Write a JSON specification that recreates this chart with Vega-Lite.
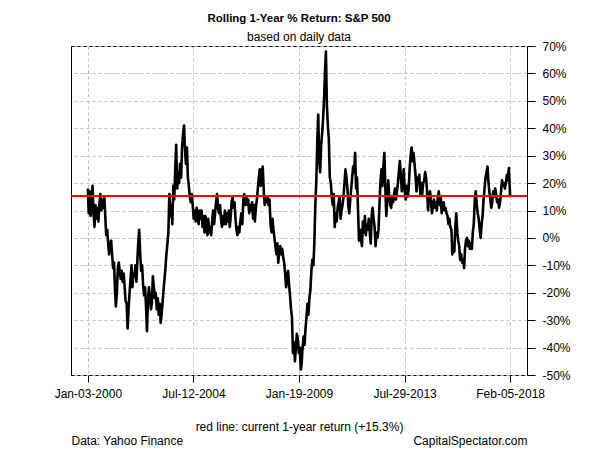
{
  "$schema": "https://vega.github.io/schema/vega-lite/v6.json",
  "width": 456,
  "height": 329,
  "autosize": {"type": "none"},
  "padding": {"left": 71, "top": 46, "right": 73, "bottom": 75},
  "background": "white",
  "title": {
    "text": "Rolling 1-Year % Return: S&P 500",
    "subtitle": "based on daily data",
    "anchor": "middle",
    "fontSize": 11.5,
    "fontWeight": "bold",
    "subtitleFontSize": 12,
    "subtitleColor": "black",
    "color": "black",
    "offset": -3,
    "subtitlePadding": 8
  },
  "datasets": {
    "ret": [
      {"d":"2000-01-03","v":18},{"d":"2000-01-16","v":9},{"d":"2000-02-01","v":17},{"d":"2000-02-16","v":8},{"d":"2000-03-01","v":12},{"d":"2000-03-16","v":19},{"d":"2000-04-01","v":9},{"d":"2000-04-16","v":4},{"d":"2000-05-01","v":12},{"d":"2000-05-16","v":7},{"d":"2000-06-01","v":11},{"d":"2000-06-16","v":6},{"d":"2000-07-01","v":12},{"d":"2000-07-16","v":16},{"d":"2000-08-01","v":10},{"d":"2000-08-16","v":14},{"d":"2000-09-01","v":11},{"d":"2000-09-16","v":15},{"d":"2000-10-01","v":8},{"d":"2000-10-16","v":1},{"d":"2000-11-01","v":3},{"d":"2000-11-16","v":-2},{"d":"2000-12-01","v":-6},{"d":"2000-12-16","v":-2},
      {"d":"2001-01-01","v":-1},{"d":"2001-01-16","v":-6},{"d":"2001-02-01","v":-11},{"d":"2001-02-16","v":-9},{"d":"2001-03-01","v":-18},{"d":"2001-03-16","v":-25},{"d":"2001-04-01","v":-20},{"d":"2001-04-16","v":-11},{"d":"2001-05-01","v":-9},{"d":"2001-05-16","v":-12},{"d":"2001-06-01","v":-15},{"d":"2001-06-16","v":-12},{"d":"2001-07-01","v":-16},{"d":"2001-07-16","v":-13},{"d":"2001-08-01","v":-18},{"d":"2001-08-16","v":-23},{"d":"2001-09-01","v":-24},{"d":"2001-09-16","v":-33},{"d":"2001-10-01","v":-26},{"d":"2001-10-16","v":-20},{"d":"2001-11-01","v":-15},{"d":"2001-11-16","v":-10},{"d":"2001-12-01","v":-18},{"d":"2001-12-16","v":-13},
      {"d":"2002-01-01","v":-14},{"d":"2002-01-16","v":-10},{"d":"2002-02-01","v":-16},{"d":"2002-02-16","v":-8},{"d":"2002-03-01","v":-2},{"d":"2002-03-16","v":3},{"d":"2002-04-01","v":-6},{"d":"2002-04-16","v":-12},{"d":"2002-05-01","v":-10},{"d":"2002-05-16","v":-17},{"d":"2002-06-01","v":-21},{"d":"2002-06-16","v":-18},{"d":"2002-07-01","v":-25},{"d":"2002-07-16","v":-34},{"d":"2002-08-01","v":-22},{"d":"2002-08-16","v":-18},{"d":"2002-09-01","v":-22},{"d":"2002-09-16","v":-26},{"d":"2002-10-01","v":-24},{"d":"2002-10-16","v":-14},{"d":"2002-11-01","v":-18},{"d":"2002-11-16","v":-22},{"d":"2002-12-01","v":-20},{"d":"2002-12-16","v":-26},
      {"d":"2003-01-01","v":-22},{"d":"2003-01-16","v":-28},{"d":"2003-02-01","v":-24},{"d":"2003-02-16","v":-31},{"d":"2003-03-01","v":-28},{"d":"2003-03-16","v":-24},{"d":"2003-04-01","v":-19},{"d":"2003-04-16","v":-15},{"d":"2003-05-01","v":-11},{"d":"2003-05-16","v":-6},{"d":"2003-06-01","v":-2},{"d":"2003-06-16","v":2},{"d":"2003-07-01","v":16},{"d":"2003-07-16","v":8},{"d":"2003-08-01","v":12},{"d":"2003-08-16","v":5},{"d":"2003-09-01","v":19},{"d":"2003-09-16","v":14},{"d":"2003-10-01","v":25},{"d":"2003-10-16","v":34},{"d":"2003-11-01","v":18},{"d":"2003-11-16","v":24},{"d":"2003-12-01","v":20},{"d":"2003-12-16","v":27},
      {"d":"2004-01-01","v":22},{"d":"2004-01-16","v":33},{"d":"2004-02-01","v":38},{"d":"2004-02-16","v":41},{"d":"2004-03-01","v":33},{"d":"2004-03-16","v":27},{"d":"2004-04-01","v":33},{"d":"2004-04-16","v":22},{"d":"2004-05-01","v":19},{"d":"2004-05-16","v":15},{"d":"2004-06-01","v":13},{"d":"2004-06-16","v":16},{"d":"2004-07-01","v":12},{"d":"2004-07-16","v":7},{"d":"2004-08-01","v":10},{"d":"2004-08-16","v":6},{"d":"2004-09-01","v":11},{"d":"2004-09-16","v":8},{"d":"2004-10-01","v":5},{"d":"2004-10-16","v":10},{"d":"2004-11-01","v":7},{"d":"2004-11-16","v":10},{"d":"2004-12-01","v":4},{"d":"2004-12-16","v":8},
      {"d":"2005-01-01","v":2},{"d":"2005-01-16","v":8},{"d":"2005-02-01","v":5},{"d":"2005-02-16","v":1},{"d":"2005-03-01","v":7},{"d":"2005-03-16","v":2},{"d":"2005-04-01","v":4},{"d":"2005-04-16","v":1},{"d":"2005-05-01","v":6},{"d":"2005-05-16","v":10},{"d":"2005-06-01","v":5},{"d":"2005-06-16","v":9},{"d":"2005-07-01","v":13},{"d":"2005-07-16","v":16},{"d":"2005-08-01","v":11},{"d":"2005-08-16","v":9},{"d":"2005-09-01","v":12},{"d":"2005-09-16","v":7},{"d":"2005-10-01","v":4},{"d":"2005-10-16","v":8},{"d":"2005-11-01","v":5},{"d":"2005-11-16","v":10},{"d":"2005-12-01","v":5},{"d":"2005-12-16","v":9},
      {"d":"2006-01-01","v":6},{"d":"2006-01-16","v":10},{"d":"2006-02-01","v":4},{"d":"2006-02-16","v":8},{"d":"2006-03-01","v":13},{"d":"2006-03-16","v":15},{"d":"2006-04-01","v":11},{"d":"2006-04-16","v":13},{"d":"2006-05-01","v":7},{"d":"2006-05-16","v":3},{"d":"2006-06-01","v":1},{"d":"2006-06-16","v":4},{"d":"2006-07-01","v":2},{"d":"2006-07-16","v":6},{"d":"2006-08-01","v":9},{"d":"2006-08-16","v":5},{"d":"2006-09-01","v":14},{"d":"2006-09-16","v":16},{"d":"2006-10-01","v":12},{"d":"2006-10-16","v":15},{"d":"2006-11-01","v":12},{"d":"2006-11-16","v":14},{"d":"2006-12-01","v":9},{"d":"2006-12-16","v":12},
      {"d":"2007-01-01","v":10},{"d":"2007-01-16","v":13},{"d":"2007-02-01","v":7},{"d":"2007-02-16","v":12},{"d":"2007-03-01","v":6},{"d":"2007-03-16","v":11},{"d":"2007-04-01","v":14},{"d":"2007-04-16","v":18},{"d":"2007-05-01","v":22},{"d":"2007-05-16","v":25},{"d":"2007-06-01","v":19},{"d":"2007-06-16","v":24},{"d":"2007-07-01","v":26},{"d":"2007-07-16","v":18},{"d":"2007-08-01","v":12},{"d":"2007-08-16","v":15},{"d":"2007-09-01","v":13},{"d":"2007-09-16","v":15},{"d":"2007-10-01","v":12},{"d":"2007-10-16","v":14},{"d":"2007-11-01","v":5},{"d":"2007-11-16","v":2},{"d":"2007-12-01","v":7},{"d":"2007-12-16","v":3},
      {"d":"2008-01-01","v":0},{"d":"2008-01-16","v":-3},{"d":"2008-02-01","v":-6},{"d":"2008-02-16","v":-2},{"d":"2008-03-01","v":-9},{"d":"2008-03-16","v":-5},{"d":"2008-04-01","v":-3},{"d":"2008-04-16","v":-6},{"d":"2008-05-01","v":-4},{"d":"2008-05-16","v":-7},{"d":"2008-06-01","v":-9},{"d":"2008-06-16","v":-13},{"d":"2008-07-01","v":-18},{"d":"2008-07-16","v":-14},{"d":"2008-08-01","v":-12},{"d":"2008-08-16","v":-17},{"d":"2008-09-01","v":-21},{"d":"2008-09-16","v":-26},{"d":"2008-10-01","v":-29},{"d":"2008-10-16","v":-42},{"d":"2008-11-01","v":-38},{"d":"2008-11-16","v":-45},{"d":"2008-12-01","v":-40},{"d":"2008-12-16","v":-35},
      {"d":"2009-01-01","v":-37},{"d":"2009-01-16","v":-42},{"d":"2009-02-01","v":-40},{"d":"2009-02-16","v":-48},{"d":"2009-03-01","v":-46},{"d":"2009-03-16","v":-40},{"d":"2009-04-01","v":-36},{"d":"2009-04-16","v":-39},{"d":"2009-05-01","v":-33},{"d":"2009-05-16","v":-29},{"d":"2009-06-01","v":-24},{"d":"2009-06-16","v":-28},{"d":"2009-07-01","v":-22},{"d":"2009-07-16","v":-19},{"d":"2009-08-01","v":-12},{"d":"2009-08-16","v":-8},{"d":"2009-09-01","v":-10},{"d":"2009-09-16","v":-2},{"d":"2009-10-01","v":12},{"d":"2009-10-16","v":20},{"d":"2009-11-01","v":35},{"d":"2009-11-16","v":45},{"d":"2009-12-01","v":28},{"d":"2009-12-16","v":24},
      {"d":"2010-01-01","v":34},{"d":"2010-01-16","v":38},{"d":"2010-02-01","v":44},{"d":"2010-02-16","v":51},{"d":"2010-03-01","v":60},{"d":"2010-03-16","v":68},{"d":"2010-04-01","v":48},{"d":"2010-04-16","v":41},{"d":"2010-05-01","v":36},{"d":"2010-05-16","v":22},{"d":"2010-06-01","v":20},{"d":"2010-06-16","v":15},{"d":"2010-07-01","v":12},{"d":"2010-07-16","v":16},{"d":"2010-08-01","v":4},{"d":"2010-08-16","v":9},{"d":"2010-09-01","v":6},{"d":"2010-09-16","v":11},{"d":"2010-10-01","v":13},{"d":"2010-10-16","v":15},{"d":"2010-11-01","v":7},{"d":"2010-11-16","v":10},{"d":"2010-12-01","v":12},{"d":"2010-12-16","v":15},
      {"d":"2011-01-01","v":20},{"d":"2011-01-16","v":25},{"d":"2011-02-01","v":22},{"d":"2011-02-16","v":18},{"d":"2011-03-01","v":12},{"d":"2011-03-16","v":9},{"d":"2011-04-01","v":14},{"d":"2011-04-16","v":18},{"d":"2011-05-01","v":22},{"d":"2011-05-16","v":26},{"d":"2011-06-01","v":24},{"d":"2011-06-16","v":31},{"d":"2011-07-01","v":18},{"d":"2011-07-16","v":22},{"d":"2011-08-01","v":10},{"d":"2011-08-16","v":-1},{"d":"2011-09-01","v":3},{"d":"2011-09-16","v":0},{"d":"2011-10-01","v":-3},{"d":"2011-10-16","v":6},{"d":"2011-11-01","v":2},{"d":"2011-11-16","v":8},{"d":"2011-12-01","v":1},{"d":"2011-12-16","v":5},
      {"d":"2012-01-01","v":3},{"d":"2012-01-16","v":7},{"d":"2012-02-01","v":2},{"d":"2012-02-16","v":-2},{"d":"2012-03-01","v":8},{"d":"2012-03-16","v":11},{"d":"2012-04-01","v":7},{"d":"2012-04-16","v":4},{"d":"2012-05-01","v":-3},{"d":"2012-05-16","v":2},{"d":"2012-06-01","v":0},{"d":"2012-06-16","v":3},{"d":"2012-07-01","v":12},{"d":"2012-07-16","v":20},{"d":"2012-08-01","v":25},{"d":"2012-08-16","v":19},{"d":"2012-09-01","v":26},{"d":"2012-09-16","v":31},{"d":"2012-10-01","v":18},{"d":"2012-10-16","v":8},{"d":"2012-11-01","v":15},{"d":"2012-11-16","v":21},{"d":"2012-12-01","v":15},{"d":"2012-12-16","v":12},
      {"d":"2013-01-01","v":11},{"d":"2013-01-16","v":15},{"d":"2013-02-01","v":13},{"d":"2013-02-16","v":16},{"d":"2013-03-01","v":18},{"d":"2013-03-16","v":14},{"d":"2013-04-01","v":17},{"d":"2013-04-16","v":20},{"d":"2013-05-01","v":24},{"d":"2013-05-16","v":28},{"d":"2013-06-01","v":23},{"d":"2013-06-16","v":17},{"d":"2013-07-01","v":20},{"d":"2013-07-16","v":25},{"d":"2013-08-01","v":17},{"d":"2013-08-16","v":14},{"d":"2013-09-01","v":19},{"d":"2013-09-16","v":15},{"d":"2013-10-01","v":18},{"d":"2013-10-16","v":25},{"d":"2013-11-01","v":30},{"d":"2013-11-16","v":33},{"d":"2013-12-01","v":28},{"d":"2013-12-16","v":31},
      {"d":"2014-01-01","v":27},{"d":"2014-01-16","v":23},{"d":"2014-02-01","v":17},{"d":"2014-02-16","v":22},{"d":"2014-03-01","v":20},{"d":"2014-03-16","v":23},{"d":"2014-04-01","v":16},{"d":"2014-04-16","v":20},{"d":"2014-05-01","v":16},{"d":"2014-05-16","v":20},{"d":"2014-06-01","v":21},{"d":"2014-06-16","v":24},{"d":"2014-07-01","v":22},{"d":"2014-07-16","v":17},{"d":"2014-08-01","v":10},{"d":"2014-08-16","v":15},{"d":"2014-09-01","v":17},{"d":"2014-09-16","v":13},{"d":"2014-10-01","v":9},{"d":"2014-10-16","v":12},{"d":"2014-11-01","v":14},{"d":"2014-11-16","v":11},{"d":"2014-12-01","v":13},{"d":"2014-12-16","v":10},
      {"d":"2015-01-01","v":15},{"d":"2015-01-16","v":17},{"d":"2015-02-01","v":12},{"d":"2015-02-16","v":15},{"d":"2015-03-01","v":9},{"d":"2015-03-16","v":12},{"d":"2015-04-01","v":13},{"d":"2015-04-16","v":10},{"d":"2015-05-01","v":11},{"d":"2015-05-16","v":9},{"d":"2015-06-01","v":8},{"d":"2015-06-16","v":5},{"d":"2015-07-01","v":7},{"d":"2015-07-16","v":4},{"d":"2015-08-01","v":3},{"d":"2015-08-16","v":-6},{"d":"2015-09-01","v":-2},{"d":"2015-09-16","v":-5},{"d":"2015-10-01","v":4},{"d":"2015-10-16","v":9},{"d":"2015-11-01","v":2},{"d":"2015-11-16","v":-1},{"d":"2015-12-01","v":-3},{"d":"2015-12-16","v":-8},
      {"d":"2016-01-01","v":-6},{"d":"2016-01-16","v":-9},{"d":"2016-02-01","v":-8},{"d":"2016-02-16","v":-11},{"d":"2016-03-01","v":-4},{"d":"2016-03-16","v":-1},{"d":"2016-04-01","v":0},{"d":"2016-04-16","v":-3},{"d":"2016-05-01","v":-1},{"d":"2016-05-16","v":-4},{"d":"2016-06-01","v":-2},{"d":"2016-06-16","v":-4},{"d":"2016-07-01","v":2},{"d":"2016-07-16","v":5},{"d":"2016-08-01","v":14},{"d":"2016-08-16","v":17},{"d":"2016-09-01","v":12},{"d":"2016-09-16","v":9},{"d":"2016-10-01","v":7},{"d":"2016-10-16","v":3},{"d":"2016-11-01","v":0},{"d":"2016-11-16","v":5},{"d":"2016-12-01","v":8},{"d":"2016-12-16","v":14},
      {"d":"2017-01-01","v":18},{"d":"2017-01-16","v":22},{"d":"2017-02-01","v":24},{"d":"2017-02-16","v":26},{"d":"2017-03-01","v":21},{"d":"2017-03-16","v":17},{"d":"2017-04-01","v":14},{"d":"2017-04-16","v":11},{"d":"2017-05-01","v":13},{"d":"2017-05-16","v":17},{"d":"2017-06-01","v":15},{"d":"2017-06-16","v":18},{"d":"2017-07-01","v":16},{"d":"2017-07-16","v":13},{"d":"2017-08-01","v":14},{"d":"2017-08-16","v":11},{"d":"2017-09-01","v":13},{"d":"2017-09-16","v":17},{"d":"2017-10-01","v":21},{"d":"2017-10-16","v":19},{"d":"2017-11-01","v":20},{"d":"2017-11-16","v":18},{"d":"2017-12-01","v":20},{"d":"2017-12-16","v":23},
      {"d":"2018-01-01","v":21},{"d":"2018-01-16","v":25.5},{"d":"2018-02-05","v":15.3}
    ],
    "current": [{"r": 15.3}]
  },
  "layer": [
    {
      "data": {"name": "ret"},
      "mark": {"type": "line", "color": "black", "strokeWidth": 2.6, "strokeJoin": "round", "clip": true},
      "encoding": {
        "x": {
          "field": "d", "type": "temporal",
          "scale": {"type": "utc", "domain": [{"year": 1999, "month": 4, "date": 14, "utc": true}, {"year": 2018, "month": 10, "date": 27, "utc": true}], "nice": false},
          "axis": {
            "values": [
              {"year": 2000, "month": 1, "date": 3, "utc": true},
              {"year": 2004, "month": 7, "date": 12, "utc": true},
              {"year": 2009, "month": 1, "date": 19, "utc": true},
              {"year": 2013, "month": 7, "date": 29, "utc": true},
              {"year": 2018, "month": 2, "date": 5, "utc": true}
            ],
            "labelExpr": "utcFormat(datum.value, '%b-%d-%Y')",
            "tickSize": 7,
            "labelPadding": 6,
            "labelBaseline": "top",
            "labelFlush": false,
            "labelOverlap": false,
            "grid": true,
            "title": "red line: current 1-year return (+15.3%)",
            "titleBaseline": "alphabetic",
            "titleY": 55
          }
        },
        "y": {
          "field": "v", "type": "quantitative",
          "scale": {"domain": [-50, 70], "nice": false, "zero": false},
          "axis": {
            "orient": "right",
            "values": [-50, -40, -30, -20, -10, 0, 10, 20, 30, 40, 50, 60, 70],
            "labelExpr": "datum.value + '%'",
            "tickSize": 8,
            "labelPadding": 7,
            "labelBaseline": "middle",
            "labelFlush": false,
            "labelOverlap": false,
            "grid": true,
            "title": "CapitalSpectator.com",
            "titleAngle": 0,
            "titleAlign": "right",
            "titleBaseline": "alphabetic",
            "titleX": 0,
            "titleY": 398.5
          }
        }
      }
    },
    {
      "data": {"name": "current"},
      "mark": {"type": "rule", "color": "#ff0000", "strokeWidth": 2},
      "encoding": {
        "y": {
          "field": "r", "type": "quantitative",
          "axis": {
            "orient": "left",
            "labels": false,
            "ticks": false,
            "grid": false,
            "domain": false,
            "title": "Data: Yahoo Finance",
            "titleAngle": 0,
            "titleAlign": "left",
            "titleBaseline": "alphabetic",
            "titleX": 0,
            "titleY": 398.5
          }
        }
      }
    }
  ],
  "resolve": {"axis": {"y": "independent"}},
  "config": {
    "font": "Liberation Sans",
    "view": {"stroke": "black", "strokeWidth": 1},
    "axis": {
      "domain": false,
      "labelFont": "Liberation Sans",
      "titleFont": "Liberation Sans",
      "labelFontSize": 12,
      "titleFontSize": 12,
      "titleFontWeight": "normal",
      "labelColor": "black",
      "titleColor": "black",
      "tickColor": "black",
      "tickWidth": 1,
      "gridColor": "#bebebe",
      "gridDash": [3, 3],
      "gridWidth": 1
    }
  }
}
